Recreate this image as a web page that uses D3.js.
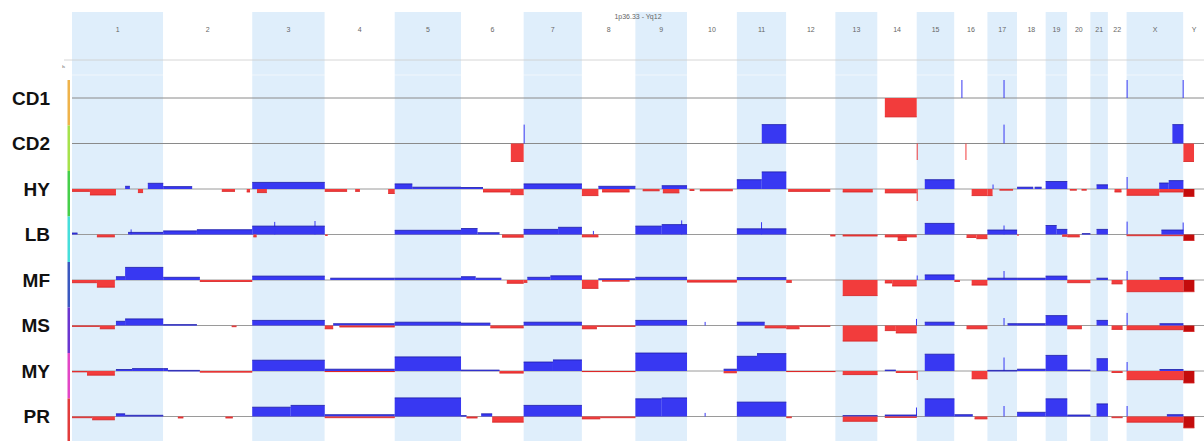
<!DOCTYPE html>
<html>
<head>
<meta charset="utf-8">
<script src="https://cdn.jsdelivr.net/npm/d3@7"></script>
<style>
  body { margin: 0; background: #fff; }
  text { font-family: "Liberation Sans", Arial, sans-serif; }
</style>
</head>
<body>
<svg id="chart" width="1204" height="441"></svg>
<script>
// chromosomes and their lengths in Mb
var chromosomes = ["1","2","3","4","5","6","7","8","9","10","11","12","13","14","15","16","17","18","19","20","21","22","X","Y"];
var chromLengths = [249,243,198,191,181,171,159,146,141,136,135,134,115,107,103,90,81,78,59,63,48,51,155,59];
var regionLabel = "1p36.33 - Yq12";

var samples = ["CD1","CD2","HY","LB","MF","MS","MY","PR"];

// segments: [chromosome, start Mb, end Mb, log ratio, call]
var segCD1 = [
  ["14",20,107,-0.63], ["16",19,20,0.6], ["17",44,45,0.6], ["X",0,2,0.6], ["X",153,155,0.6]
];
var segCD2 = [
  ["6",136,171,-0.6], ["7",0,1,0.63], ["11",68,135,0.63], ["15",0,1,-0.55], ["16",30,31,-0.55],
  ["17",44,45,0.63], ["X",125,155,0.63], ["Y",0,29,-0.6]
];
var segHY = [
  ["1",0,49,-0.08], ["1",49,120,-0.2], ["1",145,158,0.09], ["1",180,194,-0.12], ["1",207,249,0.19],
  ["2",0,79,0.08], ["2",160,196,-0.08], ["2",228,237,-0.1],
  ["3",0,198,0.22], ["3",13,40,-0.12],
  ["4",0,61,-0.08], ["4",83,96,-0.08], ["4",173,191,-0.15],
  ["5",0,48,0.17], ["5",48,181,0.06],
  ["6",0,60,0.05], ["6",60,135,-0.1], ["6",135,171,-0.19],
  ["7",0,159,0.17],
  ["8",0,45,-0.22], ["8",45,146,0.09], ["8",55,130,-0.1],
  ["9",20,66,-0.06], ["9",72,141,0.11], ["9",75,120,-0.13],
  ["10",7,20,-0.05], ["10",35,125,-0.06],
  ["11",0,68,0.31], ["11",68,135,0.57],
  ["12",5,120,-0.08], ["13",20,102,-0.1], ["14",20,107,-0.13],
  ["15",0,1,-0.4], ["15",22,103,0.31],
  ["16",47,90,-0.22], ["17",0,14,-0.22], ["17",14,16,0.15], ["17",33,70,-0.04],
  ["18",0,44,0.06], ["18",48,67,0.06], ["19",0,59,0.25],
  ["20",7,26,-0.04], ["20",39,53,-0.04], ["21",17,48,0.14], ["22",18,37,-0.1],
  ["X",0,2,0.4], ["X",0,89,-0.21], ["X",89,155,-0.1], ["X",89,115,0.2], ["X",115,155,0.28],
  ["Y",0,30,-0.25,"hom"]
];
var segLB = [
  ["1",0,15,0.05], ["1",68,117,-0.08], ["1",153,249,0.07], ["1",160,162,0.17],
  ["2",0,92,0.12], ["2",92,243,0.16],
  ["3",0,198,0.28], ["3",60,62,0.42], ["3",170,172,0.45], ["3",3,12,-0.08],
  ["4",1,8,-0.05], ["5",0,181,0.14],
  ["6",0,45,0.2], ["6",45,105,0.06], ["6",112,171,-0.09],
  ["7",0,94,0.17], ["7",94,159,0.24],
  ["8",0,45,-0.08], ["8",30,31,0.12],
  ["9",0,72,0.28], ["9",72,141,0.33], ["9",125,127,0.47],
  ["11",0,135,0.19], ["11",66,68,0.41],
  ["12",120,134,-0.05], ["13",20,115,-0.05],
  ["14",20,107,-0.08], ["14",55,80,-0.2],
  ["15",22,103,0.37], ["16",33,60,-0.1], ["16",60,90,-0.14],
  ["17",0,81,0.15], ["17",44,45,0.3], ["18",0,5,-0.04],
  ["19",0,30,0.3], ["19",30,59,0.17], ["19",45,59,-0.06], ["20",0,34,-0.08], ["20",40,63,0.03],
  ["21",17,48,0.17],
  ["X",0,2,0.43], ["X",0,155,-0.04], ["X",95,155,0.15], ["X",153,155,0.4],
  ["Y",0,30,-0.2,"hom"]
];
var segMF = [
  ["1",0,68,-0.09], ["1",68,117,-0.24], ["1",120,145,0.11], ["1",145,249,0.42],
  ["2",0,100,0.09], ["2",100,243,-0.05], ["3",0,198,0.13], ["4",15,191,0.06], ["5",0,181,0.06],
  ["6",0,40,0.11], ["6",40,110,0.06], ["6",125,171,-0.11],
  ["7",0,10,-0.08], ["7",10,73,0.09], ["7",73,159,0.14],
  ["8",0,45,-0.28], ["8",45,146,0.04], ["8",55,130,-0.04],
  ["9",0,141,0.09], ["10",0,136,-0.07], ["11",0,135,0.08], ["12",0,15,-0.08],
  ["13",20,115,-0.52], ["14",20,40,-0.1], ["14",40,107,-0.2],
  ["15",0,1,0.15], ["15",22,103,0.17], ["16",0,15,-0.05], ["16",47,90,-0.17],
  ["17",0,81,0.06], ["17",44,45,0.3], ["18",0,78,0.06], ["19",0,59,0.13],
  ["20",0,63,-0.09], ["21",17,48,0.06], ["22",10,40,-0.13],
  ["X",0,2,0.3], ["X",0,155,-0.39], ["X",90,155,0.08],
  ["Y",0,30,-0.39,"hom"]
];
var segMS = [
  ["1",0,76,-0.03], ["1",76,117,-0.11], ["1",120,145,0.14], ["1",145,249,0.22],
  ["2",0,92,0.03], ["2",187,200,-0.04], ["3",0,198,0.17],
  ["4",0,23,-0.11], ["4",23,191,0.06], ["4",40,191,-0.05], ["5",0,181,0.11],
  ["6",0,80,0.08], ["6",80,171,-0.08], ["7",0,159,0.11],
  ["8",0,41,-0.11], ["8",41,146,-0.03], ["9",0,141,0.17], ["10",48,49,0.12],
  ["11",0,76,0.11], ["11",76,135,-0.08], ["12",0,36,-0.11], ["12",36,120,-0.03],
  ["13",20,115,-0.52], ["14",20,50,-0.17], ["14",50,107,-0.25], ["14",105,107,0.22],
  ["15",22,103,0.11], ["16",33,90,-0.11], ["17",44,45,0.25], ["17",55,81,0.06],
  ["18",0,78,0.06], ["19",0,59,0.33], ["20",0,40,-0.11], ["21",17,48,0.17], ["22",10,40,-0.13],
  ["X",0,2,0.42], ["X",0,155,-0.14], ["X",90,155,0.06],
  ["Y",0,30,-0.2,"hom"]
];
var segMY = [
  ["1",0,41,-0.03], ["1",41,117,-0.14], ["1",120,164,0.05], ["1",164,249,0.08],
  ["2",0,13,0.08], ["2",13,100,0.02], ["2",100,243,-0.04], ["3",0,198,0.36],
  ["4",0,191,0.06], ["4",0,191,-0.02], ["5",0,181,0.47],
  ["6",0,105,0.03], ["6",105,171,-0.07], ["7",0,80,0.3], ["7",80,159,0.37],
  ["8",0,146,-0.02], ["9",0,141,0.6], ["10",100,136,0.06], ["10",100,136,-0.06],
  ["11",0,55,0.49], ["11",55,135,0.58], ["12",0,134,-0.02], ["13",20,115,-0.12],
  ["14",20,50,0.03], ["14",50,107,-0.05], ["15",0,1,-0.3], ["15",22,103,0.56],
  ["16",47,90,-0.26], ["17",0,81,0.02], ["17",44,45,0.45], ["18",0,78,0.06],
  ["19",0,59,0.52], ["20",0,63,0.03], ["21",17,48,0.41], ["22",10,40,-0.05],
  ["X",0,2,0.3], ["X",0,155,-0.29], ["X",90,155,0.05],
  ["Y",0,30,-0.4,"hom"]
];
var segPR = [
  ["1",0,55,-0.04], ["1",55,117,-0.11], ["1",120,145,0.09], ["1",145,249,0.04],
  ["2",40,55,-0.05], ["2",170,190,-0.05], ["3",0,105,0.31], ["3",105,198,0.37],
  ["4",0,191,0.06], ["4",0,191,-0.04], ["5",0,181,0.62],
  ["6",0,15,0.03], ["6",15,45,-0.05], ["6",55,85,0.09], ["6",85,171,-0.19],
  ["7",0,159,0.37], ["8",0,50,-0.08], ["8",50,146,-0.04],
  ["9",0,72,0.59], ["9",72,141,0.62], ["10",48,49,0.12], ["11",0,135,0.48], ["12",0,15,-0.04],
  ["13",20,115,0.03], ["13",20,115,-0.16], ["14",20,107,0.05], ["14",20,107,-0.03], ["14",105,107,0.3],
  ["15",22,103,0.59], ["16",0,50,0.06], ["16",55,90,-0.08], ["17",44,45,0.35],
  ["18",0,78,0.14], ["19",0,59,0.59], ["20",0,63,0.05], ["21",17,48,0.42], ["22",10,40,-0.04],
  ["X",0,2,0.35], ["X",0,155,-0.19], ["X",110,155,0.06],
  ["Y",0,30,-0.38,"hom"]
];
var sampleSegments = [segCD1, segCD2, segHY, segLB, segMF, segMS, segMY, segPR];

var trackColors = ["#efb34a","#a6e24c","#46cf4a","#46dedb","#3a58c0","#6a36d0","#e246c6","#e23c3c"];

function main() {
  var svg = d3.select("#chart");
  var W = 1204, H = 441;

  var offsets = {};
  var acc = 0;
  chromosomes.forEach(function(c, i) { offsets[c] = acc; acc += chromLengths[i]; });

  var x = d3.scaleLinear().domain([0, acc]).range([72, 1205]);
  var rows = d3.scaleBand().domain(samples).range([80, 444]);
  var v = d3.scaleLinear().domain([-1, 1]).range([30, -30]);

  // chromosome bands
  svg.append("g").selectAll("rect")
    .data(chromosomes)
    .enter().append("rect")
    .attr("x", function(c) { return x(offsets[c]); })
    .attr("y", 12)
    .attr("width", function(c, i) { return x(offsets[c] + chromLengths[i]) - x(offsets[c]); })
    .attr("height", H - 12)
    .attr("fill", function(c, i) { return i % 2 === 0 ? "#dfeefb" : "#fff"; });

  svg.append("g").selectAll("text")
    .data(chromosomes)
    .enter().append("text")
    .attr("x", function(c, i) { return x(offsets[c] + chromLengths[i] / 2); })
    .attr("y", 32)
    .attr("text-anchor", "middle")
    .attr("font-size", 7)
    .attr("fill", "#666")
    .text(function(c) { return c; });

  svg.append("text")
    .attr("x", 638).attr("y", 19)
    .attr("text-anchor", "middle")
    .attr("font-size", 7)
    .attr("fill", "#666")
    .text(regionLabel);

  svg.append("line")
    .attr("x1", 64).attr("x2", W).attr("y1", 60).attr("y2", 60)
    .attr("stroke", "#ccc").attr("stroke-width", 0.8);
  svg.append("line")
    .attr("x1", 72).attr("x2", W).attr("y1", 75).attr("y2", 75)
    .attr("stroke", "#fff").attr("stroke-width", 0.8).attr("opacity", 0.7);
  svg.append("text")
    .attr("x", 62).attr("y", 68)
    .attr("font-size", 6).attr("fill", "#888")
    .text("ь");

  // left colored track bar
  svg.append("g").selectAll("rect")
    .data(samples)
    .enter().append("rect")
    .attr("x", 67.5)
    .attr("y", function(s) { return rows(s); })
    .attr("width", 2.5)
    .attr("height", rows.bandwidth())
    .attr("fill", function(s, i) { return trackColors[i]; });

  // sample labels
  svg.append("g").selectAll("text")
    .data(samples)
    .enter().append("text")
    .attr("x", 50)
    .attr("y", function(s) { return rows(s) + 18; })
    .attr("dy", "0.36em")
    .attr("text-anchor", "end")
    .attr("font-size", 19)
    .attr("font-weight", "bold")
    .attr("fill", "#111")
    .text(function(s) { return s; });

  samples.forEach(function(s, i) {
    var base = rows(s) + 18;
    var g = svg.append("g");

    g.append("line")
      .attr("x1", 72).attr("x2", W).attr("y1", base).attr("y2", base)
      .attr("stroke", i < 2 ? "#8a8a8a" : "#9a9a9a").attr("stroke-width", 1);

    var segs = sampleSegments[i];
    g.selectAll("rect.seg")
      .data(segs)
      .enter().append("rect")
      .attr("class", "seg")
      .attr("x", function(d) { return x(offsets[d[0]] + d[1]); })
      .attr("width", function(d) { return Math.max(1, x(offsets[d[0]] + d[2]) - x(offsets[d[0]] + d[1])); })
      .attr("y", function(d) { return d[3] > 0 ? base + v(d[3]) : base; })
      .attr("height", function(d) { return Math.max(1, Math.abs(v(d[3]) - v(0))); })
      .attr("fill", function(d) {
        if (d[4] === "hom") return "#c40c0c";
        return d[3] > 0 ? "#3838f2" : "#f23c3c";
      });

    // darker outer edge of each segment
    g.selectAll("line.edge")
      .data(segs.filter(function(d) { return x(offsets[d[0]] + d[2]) - x(offsets[d[0]] + d[1]) > 3; }))
      .enter().append("line")
      .attr("class", "edge")
      .attr("x1", function(d) { return x(offsets[d[0]] + d[1]); })
      .attr("x2", function(d) { return x(offsets[d[0]] + d[2]); })
      .attr("y1", function(d) { return base + v(d[3]); })
      .attr("y2", function(d) { return base + v(d[3]); })
      .attr("stroke", function(d) { return d[3] > 0 ? "#1c1ca8" : "#d42020"; })
      .attr("stroke-width", 0.8);
  });
}
main();
</script>
</body>
</html>
